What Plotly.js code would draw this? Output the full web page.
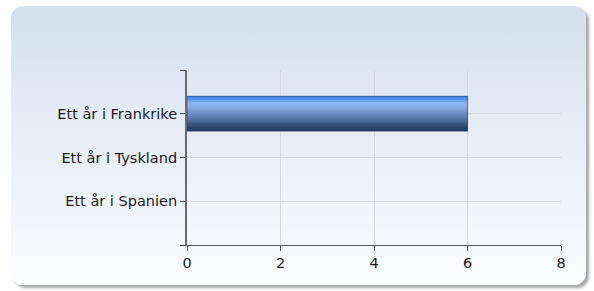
<!DOCTYPE html>
<html>
<head>
<meta charset="utf-8">
<script src="https://cdn.plot.ly/plotly-3.0.1.min.js"></script>
<style>
  html, body { margin: 0; padding: 0; width: 594px; height: 291px; overflow: hidden; background: #ffffff; }
  #panel {
    position: absolute; left: 11px; top: 6px; width: 575px; height: 279px;
    border-radius: 12px;
    background: linear-gradient(to bottom, #d3dfee 0%, #e6edf6 45%, #fbfcfe 100%);
    box-shadow: 3px 3px 3px rgba(0,0,0,0.35);
  }
  #chart { position: absolute; left: 0; top: 0; width: 594px; height: 291px; }
</style>
</head>
<body>
<div id="panel"></div>
<div id="chart"></div>
<script>
const categories = ["Ett år i Frankrike", "Ett år i Tyskland", "Ett år i Spanien"];
const values = [6, 0, 0];
const xTicks = [0, 2, 4, 6, 8];

// styling: vertical gradient stripes for the bar (top -> bottom)
const stripeColors = ["#4683e6", "#5a93ea", "#74a6ee", "#88b4f0", "#8cb5ed", "#86aee6",
                      "#7ea4dc", "#7699d0", "#6d8fc5", "#6586bb", "#5c7cb0", "#5373a5",
                      "#4a6a9a", "#42618f", "#3a5884", "#324f79", "#2a466d", "#233d62"];
const barWidth = 0.8;

const yPos = categories.map((_, i) => i);
const n = stripeColors.length;
const w = barWidth / n;

const traces = stripeColors.map((c, i) => ({
  type: "bar",
  orientation: "h",
  x: values,
  y: yPos,
  width: i === n - 1 ? w : w * 1.6,
  offset: -barWidth / 2 + i * w,
  marker: { color: c, line: { width: 0 } },
  hoverinfo: "skip",
  showlegend: false
}));
// thin outline of the full bar (only where a bar exists)
traces.push({
  type: "bar", orientation: "h", x: values, y: yPos,
  width: barWidth, offset: -barWidth / 2,
  marker: { color: "rgba(0,0,0,0)", line: { width: values.map(v => v > 0 ? 1 : 0), color: "rgba(40,70,120,0.6)" } },
  hoverinfo: "skip", showlegend: false
});

const yTickVals = [-1].concat(yPos, [categories.length]);
const yTickText = [""].concat(categories, [""]);

const layout = {
  width: 594, height: 291,
  margin: { l: 187, r: 33, t: 70, b: 46 },
  paper_bgcolor: "rgba(0,0,0,0)",
  plot_bgcolor: "rgba(0,0,0,0)",
  barmode: "overlay",
  bargap: 0,
  font: { family: "DejaVu Sans, Verdana, sans-serif", size: 14.5, color: "#1a1a1a" },
  xaxis: {
    range: [0, 8],
    tickvals: xTicks,
    ticktext: xTicks.map(String),
    showgrid: true, gridcolor: "#d3d8e0", gridwidth: 1,
    zeroline: false,
    showline: true, linecolor: "#555555", linewidth: 1,
    ticks: "outside", ticklen: 5, tickcolor: "#555555",
    tickfont: { size: 14.5, color: "#1a1a1a" },
    fixedrange: true
  },
  yaxis: {
    range: [categories.length, -1],
    tickvals: yTickVals,
    ticktext: yTickText,
    showgrid: true, gridcolor: "#d3d8e0", gridwidth: 1,
    zeroline: false,
    showline: true, linecolor: "#6a6a6a", linewidth: 2,
    ticks: "outside", ticklen: 5, tickcolor: "#444444",
    tickfont: { size: 14.5, color: "#1a1a1a" },
    fixedrange: true
  }
};

Plotly.newPlot("chart", traces, layout, { displayModeBar: false, staticPlot: true });
</script>
</body>
</html>
